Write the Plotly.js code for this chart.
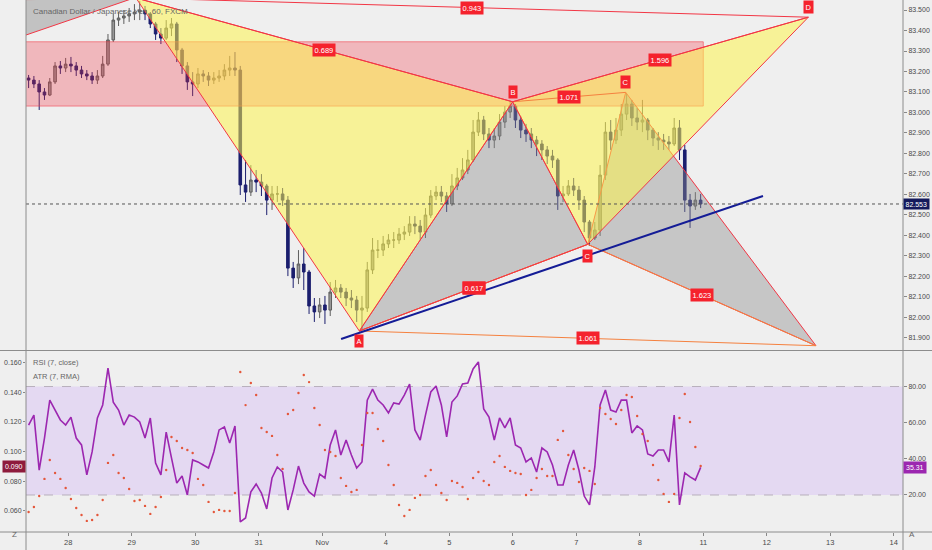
<!DOCTYPE html>
<html><head><meta charset="utf-8">
<script src="https://cdn.plot.ly/plotly-3.0.1.min.js"></script>
<style>html,body{margin:0;padding:0;background:#efefef;}#chart{width:932px;height:550px;}</style>
</head><body><div id="chart"></div>
<script>
// ---- axis / time data (trading days since Oct 28, weekends removed) ----
const dayTicks = [0,1,2,3,4,5,6,7,8,9,10,11,12,13];
const dayLabels = ['28','29','30','31','Nov','4','5','6','7','8','11','12','13','14'];
const barStart = -0.625;      // first bar, in trading days
const barStep = 1/12;         // 2-hour bars

// ---- CAD/JPY price bars ----
const open = [83.168,83.158,83.139,83.100,83.085,83.149,83.227,83.217,83.236,83.227,83.207,83.188,83.178,83.158,83.178,83.236,83.354,83.451,83.461,83.471,83.481,83.490,83.500,83.481,83.432,83.383,83.363,83.412,83.432,83.305,83.227,83.149,83.139,83.188,83.178,83.158,83.168,83.178,83.207,83.217,83.207,82.646,82.611,82.670,82.660,82.641,82.572,82.602,82.602,82.572,82.240,82.192,82.260,82.221,82.055,82.026,82.060,82.035,82.123,82.143,82.123,82.094,82.084,82.035,82.045,82.231,82.328,82.328,82.358,82.377,82.377,82.406,82.416,82.455,82.445,82.416,82.499,82.592,82.611,82.592,82.553,82.641,82.680,82.719,82.768,82.904,82.963,82.895,82.865,82.885,82.953,83.002,83.031,82.963,82.914,82.895,82.865,82.846,82.817,82.787,82.768,82.592,82.602,82.641,82.621,82.572,82.465,82.387,82.426,82.694,82.904,82.865,82.914,82.992,83.041,82.973,82.953,82.963,82.914,82.875,82.865,82.856,82.846,82.924,82.817,82.572,82.543,82.572];
const high = [83.183,83.178,83.158,83.119,83.168,83.246,83.251,83.266,83.271,83.246,83.227,83.207,83.197,83.207,83.276,83.383,83.481,83.490,83.500,83.510,83.529,83.544,83.520,83.490,83.442,83.412,83.451,83.461,83.442,83.315,83.246,83.197,83.217,83.207,83.197,83.197,83.207,83.236,83.276,83.295,83.227,82.768,82.743,82.719,82.699,82.651,82.641,82.641,82.631,82.592,82.270,82.328,82.338,82.231,82.094,82.094,82.104,82.172,82.182,82.162,82.143,82.133,82.104,82.104,82.270,82.387,82.377,82.397,82.406,82.416,82.436,82.445,82.494,82.494,82.475,82.533,82.621,82.641,82.641,82.611,82.699,82.729,82.777,82.817,82.963,83.002,82.983,82.924,82.924,82.992,83.031,83.056,83.041,82.983,82.944,82.924,82.885,82.865,82.836,82.817,82.777,82.641,82.670,82.680,82.641,82.592,82.475,82.465,82.743,82.953,82.963,82.973,83.041,83.095,83.061,83.022,83.061,82.973,82.924,82.904,82.895,82.885,82.973,82.963,82.841,82.602,82.611,82.602];
const low = [83.119,83.119,83.012,83.061,83.080,83.139,83.188,83.197,83.197,83.178,83.168,83.158,83.139,83.139,83.168,83.227,83.344,83.422,83.432,83.442,83.451,83.451,83.451,83.412,83.354,83.334,83.354,83.373,83.246,83.188,83.110,83.080,83.119,83.149,83.129,83.139,83.149,83.158,83.178,83.178,82.597,82.563,82.592,82.611,82.592,82.499,82.524,82.563,82.543,82.201,82.143,82.162,82.133,82.016,81.977,81.996,81.967,82.006,82.094,82.094,82.055,82.045,81.977,81.938,82.026,82.211,82.289,82.299,82.338,82.338,82.358,82.377,82.397,82.406,82.377,82.387,82.485,82.572,82.563,82.514,82.543,82.621,82.670,82.699,82.758,82.885,82.865,82.826,82.826,82.865,82.924,82.973,82.924,82.875,82.856,82.826,82.787,82.768,82.748,82.729,82.524,82.563,82.592,82.592,82.524,82.416,82.348,82.377,82.397,82.670,82.817,82.846,82.885,82.963,82.934,82.914,82.904,82.865,82.836,82.817,82.817,82.817,82.836,82.768,82.514,82.436,82.524,82.533];
const close = [83.158,83.139,83.100,83.085,83.149,83.227,83.217,83.236,83.227,83.207,83.188,83.178,83.158,83.178,83.236,83.354,83.451,83.461,83.471,83.481,83.490,83.500,83.481,83.432,83.383,83.363,83.412,83.432,83.305,83.227,83.149,83.139,83.188,83.178,83.158,83.168,83.178,83.207,83.217,83.207,82.646,82.611,82.670,82.660,82.641,82.572,82.602,82.602,82.572,82.240,82.192,82.260,82.221,82.055,82.026,82.060,82.035,82.123,82.143,82.123,82.094,82.084,82.035,82.045,82.231,82.328,82.328,82.358,82.377,82.377,82.406,82.416,82.455,82.445,82.416,82.499,82.592,82.611,82.592,82.553,82.641,82.680,82.719,82.768,82.904,82.963,82.895,82.865,82.885,82.953,83.002,83.031,82.963,82.914,82.895,82.865,82.846,82.817,82.787,82.768,82.592,82.602,82.641,82.621,82.572,82.465,82.387,82.426,82.694,82.904,82.865,82.914,82.992,83.041,82.973,82.953,82.963,82.914,82.875,82.865,82.856,82.846,82.924,82.817,82.572,82.543,82.572,82.553];

// ---- indicators ----
const rsi = [58.7,64.2,33.8,51.5,72.5,67.0,61.5,58.7,63.1,51.5,47.7,31.1,43.8,62.6,69.8,90.2,71.4,67.0,58.7,64.2,63.1,60.4,51.5,62.6,37.7,31.1,54.8,40.5,26.6,30.5,20.0,39.4,38.3,36.6,34.9,43.8,56.0,57.6,48.8,58.2,5.1,7.3,21.7,26.1,21.1,12.3,29.4,35.5,32.7,11.7,22.8,36.0,26.6,21.7,19.4,31.6,29.4,47.7,56.0,42.1,50.4,42.1,34.9,38.3,72.5,78.6,72.5,69.8,65.4,70.9,70.3,75.3,81.4,56.0,50.4,64.2,77.0,80.3,69.8,52.1,71.4,74.8,81.4,81.9,89.7,93.6,67.6,63.1,50.4,62.6,57.1,62.6,47.7,46.0,38.3,40.5,32.7,46.0,43.8,36.6,25.5,25.5,36.6,44.9,33.8,19.4,14.5,35.5,69.8,78.1,67.0,65.9,72.5,72.5,54.3,58.2,56.0,42.7,41.6,44.9,44.9,38.3,64.2,14.5,32.2,30.0,28.3,35.31];
const atr = [0.0593,0.0627,0.0701,0.0816,0.0944,0.0856,0.0816,0.0755,0.0681,0.0620,0.0573,0.0533,0.0539,0.0573,0.0674,0.0924,0.0977,0.0856,0.0822,0.0748,0.0667,0.0674,0.0634,0.0580,0.0627,0.0694,0.0876,0.1099,0.1072,0.1025,0.1011,0.0991,0.0816,0.0775,0.0661,0.0593,0.0607,0.0600,0.0600,0.0721,0.1537,0.1314,0.1463,0.1382,0.1159,0.1132,0.1106,0.0977,0.0883,0.1254,0.1281,0.1395,0.1517,0.1469,0.1294,0.1180,0.1011,0.0998,0.0971,0.0822,0.0769,0.0728,0.0742,0.1045,0.1261,0.1261,0.1153,0.1072,0.0910,0.0775,0.0640,0.0566,0.0607,0.0688,0.0708,0.0836,0.0876,0.0775,0.0721,0.0674,0.0802,0.0789,0.0762,0.0681,0.0822,0.0863,0.0802,0.0775,0.0930,0.0971,0.0897,0.0870,0.0856,0.0849,0.0708,0.0742,0.0822,0.0883,0.0836,0.0836,0.1079,0.1139,0.0977,0.0883,0.0795,0.0890,0.0870,0.0782,0.1294,0.1254,0.1220,0.1186,0.1281,0.1382,0.1368,0.1240,0.1119,0.1072,0.0910,0.0809,0.0715,0.0661,0.0715,0.1227,0.1389,0.1200,0.1031,0.0903];

// ---- drawings (XABCD patterns, zone, trendline) ----
const p1Time  = [1.066, 4.583, 6.998, 8.180, 11.654];   // X A B C D (yellow)
const p1Price = [83.559, 81.933, 83.052, 82.356, 83.465];
const p1Ratios = ['0.689','0.617','1.596','0.943'];      // XB AC BD XD
const p2Time  = [4.583, 6.998, 8.180, 8.778, 11.775];   // X A B C D (grey)
const p2Price = [81.933, 83.052, 82.356, 83.098, 81.861];
const p2Ratios = ['0.617','1.071','1.623','1.061'];
const zoneTime = [-1.0, 10.0];
const zonePrice = [83.031, 83.345];
const oldTime = [-1.2, 0.658, 0.99, -0.666];             // earlier pattern corner at top-left
const oldPrice = [83.550, 83.554, 83.554, 83.378];
const trendTime = [4.296, 10.94];
const trendPrice = [81.894, 82.592];

// ---------------------------------------------------------------
const barTime = close.map((_, i) => barStart + i * barStep);
const lastPrice = close[close.length - 1];
const lastRsi = rsi[rsi.length - 1];
const lastAtr = atr[atr.length - 1];

const RED = '#f23645';
const FONT = 'Liberation Sans, Arial, sans-serif';
const TXT = '#4a4a4a';

function tri(t, p, i, j, k) {
  return `M ${t[i]},${p[i]} L ${t[j]},${p[j]} L ${t[k]},${p[k]} Z`;
}
function seg(t0, p0, t1, p1, color, w, dash) {
  return {type:'line', xref:'x', yref:'y', x0:t0, y0:p0, x1:t1, y1:p1,
          line:{color:color, width:w, dash:dash||'solid'}, layer:'above'};
}

const shapes = [];
// supply/resistance zone
shapes.push({type:'rect', xref:'x', yref:'y', x0:zoneTime[0], x1:zoneTime[1], y0:zonePrice[0], y1:zonePrice[1],
  fillcolor:'rgba(242,54,69,0.30)', line:{color:'rgba(242,54,69,0.55)', width:1}, layer:'above'});
// older pattern corner
shapes.push({type:'path', xref:'x', yref:'y',
  path:`M ${oldTime[0]},${oldPrice[0]} L ${oldTime[1]},${oldPrice[1]} L ${oldTime[2]},${oldPrice[2]} L ${oldTime[3]},${oldPrice[3]} Z`,
  fillcolor:'rgba(140,140,140,0.45)', line:{width:0}, layer:'above'});
shapes.push(seg(oldTime[0], oldPrice[0], oldTime[1], oldPrice[1], RED, 1));
shapes.push(seg(oldTime[3], oldPrice[3], oldTime[2], oldPrice[2], RED, 1));
// grey pattern fills
[[0,1,2],[2,3,4]].forEach(v => shapes.push({type:'path', xref:'x', yref:'y', path:tri(p2Time,p2Price,v[0],v[1],v[2]),
  fillcolor:'rgba(140,140,140,0.42)', line:{color:RED, width:1}, layer:'above'}));
// yellow pattern fills
[[0,1,2],[2,3,4]].forEach(v => shapes.push({type:'path', xref:'x', yref:'y', path:tri(p1Time,p1Price,v[0],v[1],v[2]),
  fillcolor:'rgba(255,246,70,0.52)', line:{color:RED, width:1}, layer:'above'}));
// ratio lines
const ratioPairs = [[0,2],[1,3],[2,4],[0,4]];
[[p2Time,p2Price,'#f5813f'],[p1Time,p1Price,RED]].forEach(([t,p,c]) => {
  ratioPairs.forEach(([i,j]) => shapes.push(seg(t[i],p[i],t[j],p[j],c,1)));
});
// trend line
shapes.push(seg(trendTime[0], trendPrice[0], trendTime[1], trendPrice[1], '#141c96', 2));
// last price line
shapes.push({type:'line', xref:'paper', yref:'y', x0:0, x1:1, y0:lastPrice, y1:lastPrice,
  line:{color:'#555', width:1, dash:'dot'}, layer:'above'});
// RSI band
shapes.push({type:'rect', xref:'paper', yref:'y2', x0:0, x1:1, y0:20, y1:80,
  fillcolor:'rgba(195,150,250,0.25)', line:{width:0}, layer:'below'});
[20,80].forEach(v => shapes.push({type:'line', xref:'paper', yref:'y2', x0:0, x1:1, y0:v, y1:v,
  line:{color:'#b8b0bc', width:1, dash:'dash'}, layer:'below'}));
// pane borders
const PW = 877, PH = 532;
[0, (532-350.5)/PH].forEach(y => shapes.push({type:'line', xref:'paper', yref:'paper',
  x0:-26/PW, x1:1+29/PW, y0:y, y1:y, line:{color:'#8c8c8c', width:1}}));
[0, 1].forEach(x => shapes.push({type:'line', xref:'paper', yref:'paper',
  x0:x, x1:x, y0:-18/PH, y1:1, line:{color:'#8c8c8c', width:1}}));

// annotations
const ann = [];
ann.push({xref:'paper', yref:'paper', x:5/PW, y:1-5/PH, xanchor:'left', yanchor:'top', showarrow:false,
  text:'Canadian Dollar / Japanese Yen, 60, FXCM', font:{family:FONT, size:8, color:'#666'}});
ann.push({xref:'paper', yref:'paper', x:5/PW, y:(532-356)/PH, xanchor:'left', yanchor:'top', showarrow:false,
  text:'RSI (7, close)', font:{family:FONT, size:7.5, color:'#666'}});
ann.push({xref:'paper', yref:'paper', x:5/PW, y:(532-370)/PH, xanchor:'left', yanchor:'top', showarrow:false,
  text:'ATR (7, RMA)', font:{family:FONT, size:7.5, color:'#666'}});
function label(x, y, text, yshift) {
  ann.push({xref:'x', yref:'y', x:x, y:y, text:text, showarrow:false, yshift:yshift||0,
    bgcolor:'#f5222d', borderpad:1.5, font:{family:FONT, size:7.5, color:'#fff'}});
}
[[p2Time,p2Price,p2Ratios],[p1Time,p1Price,p1Ratios]].forEach(([t,p,r]) => {
  ratioPairs.forEach(([i,j],n) => label((t[i]+t[j])/2, (p[i]+p[j])/2, r[n]));
});
label(p1Time[1], p1Price[1], 'A', -10);
label(p1Time[2], p1Price[2], 'B', 10);
label(p2Time[3], p2Price[3], 'C', 10);
label(p1Time[3], p1Price[3], 'C', -12);
label(p1Time[4], p1Price[4], 'D', 10);
ann.push({xref:'paper', yref:'y', x:1, y:lastPrice, xanchor:'left', showarrow:false, text:lastPrice.toFixed(3),
  bgcolor:'#141a5c', borderpad:1.5, font:{family:FONT, size:7, color:'#fff'}});
ann.push({xref:'paper', yref:'y2', x:1, y:lastRsi, xanchor:'left', showarrow:false, text:lastRsi.toFixed(2),
  bgcolor:'#9c27b0', borderpad:2, font:{family:FONT, size:7, color:'#fff'}});
ann.push({xref:'paper', yref:'y3', x:0, y:lastAtr, xanchor:'right', showarrow:false, text:lastAtr.toFixed(3),
  bgcolor:'#8e1b3c', borderpad:2, font:{family:FONT, size:7, color:'#fff'}});
ann.push({xref:'paper', yref:'paper', x:-16/PW, y:-9/PH, showarrow:false, text:'Z', font:{family:FONT, size:8, color:'#666'}});
ann.push({xref:'paper', yref:'paper', x:1+14/PW, y:-9/PH, showarrow:false, text:'A', font:{family:FONT, size:8, color:'#666'}});

const traces = [
  {type:'candlestick', x:barTime, open:open, high:high, low:low, close:close, xaxis:'x', yaxis:'y',
   increasing:{line:{color:'#5e5e5e', width:1}, fillcolor:'#979797'},
   decreasing:{line:{color:'#1b1e6e', width:1}, fillcolor:'#1b1e6e'},
   whiskerwidth:0, hoverinfo:'skip', showlegend:false},
  {type:'scatter', mode:'lines', x:barTime, y:rsi, xaxis:'x', yaxis:'y2',
   line:{color:'#9c27b0', width:1.6}, hoverinfo:'skip', showlegend:false},
  {type:'scatter', mode:'markers', x:barTime, y:atr, xaxis:'x', yaxis:'y3',
   marker:{color:'#e4573b', size:2.4}, hoverinfo:'skip', showlegend:false}
];

const tickFont = {family:FONT, size:7, color:TXT};
const layout = {
  width:932, height:550, margin:{l:26, r:29, t:0, b:18},
  paper_bgcolor:'#efefef', plot_bgcolor:'#efefef', showlegend:false,
  xaxis:{range:[-0.666, 13.145], tickvals:dayTicks, ticktext:dayLabels, anchor:'y2',
    showgrid:false, zeroline:false, showline:false, ticks:'outside', ticklen:3, tickcolor:'#888',
    tickfont:{family:FONT, size:7.5, color:TXT}, rangeslider:{visible:false}, fixedrange:true},
  yaxis:{domain:[(532-349)/PH, 1], range:[81.845, 83.549], side:'right', anchor:'x',
    tick0:81.9, dtick:0.1, tickformat:'.3f', showgrid:false, zeroline:false, showline:false,
    ticks:'outside', ticklen:3, tickcolor:'#888', tickfont:tickFont, fixedrange:true},
  yaxis2:{domain:[0, (532-352)/PH], range:[-0.47, 99.1], side:'right', anchor:'x',
    tickvals:[20,40,60,80], tickformat:'.2f', showgrid:false, zeroline:false, showline:false,
    ticks:'outside', ticklen:3, tickcolor:'#888', tickfont:tickFont, fixedrange:true},
  yaxis3:{overlaying:'y2', range:[0.0458, 0.1672], side:'left', anchor:'x',
    tickvals:[0.06,0.08,0.10,0.12,0.14,0.16], tickformat:'.3f', showgrid:false, zeroline:false, showline:false,
    ticks:'outside', ticklen:2, tickcolor:'#888', tickfont:tickFont, fixedrange:true},
  shapes:shapes, annotations:ann
};
Plotly.newPlot('chart', traces, layout, {staticPlot:true, displayModeBar:false});
</script>
</body></html>
